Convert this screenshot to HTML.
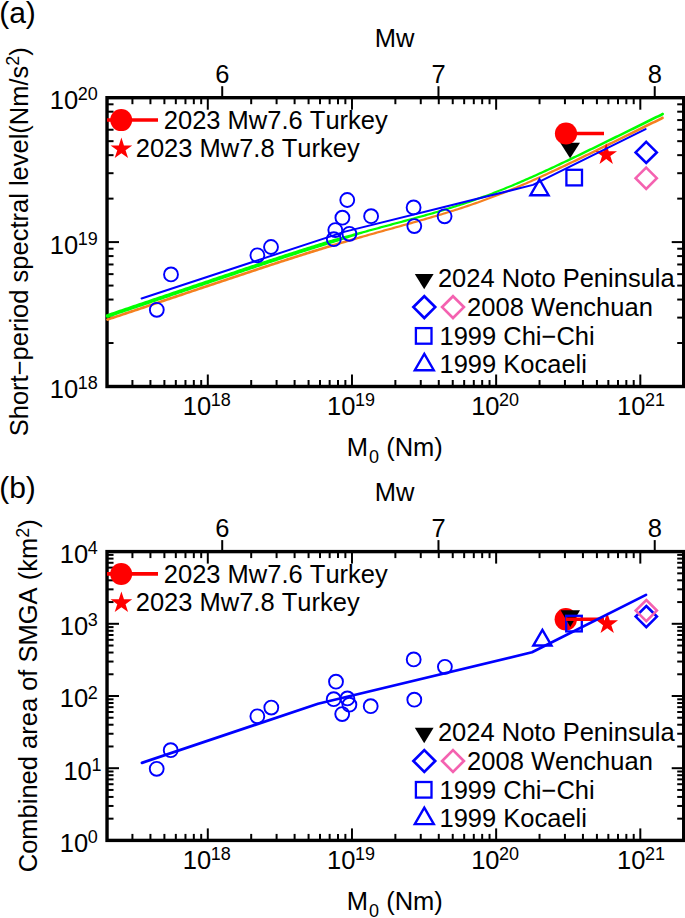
<!DOCTYPE html>
<html><head><meta charset="utf-8"><style>
html,body{margin:0;padding:0;background:#fff;width:685px;height:918px;overflow:hidden}
svg text{font-family:"Liberation Sans",sans-serif;fill:#000;font-kerning:none}
</style></head><body>
<svg width="685" height="918" viewBox="0 0 685 918" style="display:block">
<rect width="685" height="918" fill="#fff"/>
<text x="-0.86" y="22.50" font-size="30" text-anchor="start">(a)</text>
<text x="-0.86" y="498.30" font-size="30" text-anchor="start">(b)</text>
<text transform="translate(27.8,241.7) rotate(-90)" font-size="25.5" text-anchor="middle">Short&#8722;period spectral level(Nm/s<tspan font-size="18.0" dy="-8.5">2</tspan><tspan dy="8.5">)</tspan></text>
<text transform="translate(37.2,695.8) rotate(-90)" font-size="25.5" text-anchor="middle">Combined area of SMGA (km<tspan font-size="18.0" dy="-8.5">2</tspan><tspan dy="8.5">)</tspan></text>
<g stroke="#000" stroke-width="2.0">
<line x1="132.42" y1="386.50" x2="132.42" y2="380.00"/>
<line x1="132.42" y1="97.70" x2="132.42" y2="104.20"/>
<line x1="150.43" y1="386.50" x2="150.43" y2="380.00"/>
<line x1="150.43" y1="97.70" x2="150.43" y2="104.20"/>
<line x1="164.40" y1="386.50" x2="164.40" y2="380.00"/>
<line x1="164.40" y1="97.70" x2="164.40" y2="104.20"/>
<line x1="175.82" y1="386.50" x2="175.82" y2="380.00"/>
<line x1="175.82" y1="97.70" x2="175.82" y2="104.20"/>
<line x1="185.47" y1="386.50" x2="185.47" y2="380.00"/>
<line x1="185.47" y1="97.70" x2="185.47" y2="104.20"/>
<line x1="193.83" y1="386.50" x2="193.83" y2="380.00"/>
<line x1="193.83" y1="97.70" x2="193.83" y2="104.20"/>
<line x1="201.20" y1="386.50" x2="201.20" y2="380.00"/>
<line x1="201.20" y1="97.70" x2="201.20" y2="104.20"/>
<line x1="207.80" y1="386.50" x2="207.80" y2="374.50"/>
<line x1="207.80" y1="97.70" x2="207.80" y2="109.70"/>
<line x1="251.20" y1="386.50" x2="251.20" y2="380.00"/>
<line x1="251.20" y1="97.70" x2="251.20" y2="104.20"/>
<line x1="276.59" y1="386.50" x2="276.59" y2="380.00"/>
<line x1="276.59" y1="97.70" x2="276.59" y2="104.20"/>
<line x1="294.60" y1="386.50" x2="294.60" y2="380.00"/>
<line x1="294.60" y1="97.70" x2="294.60" y2="104.20"/>
<line x1="308.57" y1="386.50" x2="308.57" y2="380.00"/>
<line x1="308.57" y1="97.70" x2="308.57" y2="104.20"/>
<line x1="319.99" y1="386.50" x2="319.99" y2="380.00"/>
<line x1="319.99" y1="97.70" x2="319.99" y2="104.20"/>
<line x1="329.64" y1="386.50" x2="329.64" y2="380.00"/>
<line x1="329.64" y1="97.70" x2="329.64" y2="104.20"/>
<line x1="338.00" y1="386.50" x2="338.00" y2="380.00"/>
<line x1="338.00" y1="97.70" x2="338.00" y2="104.20"/>
<line x1="345.37" y1="386.50" x2="345.37" y2="380.00"/>
<line x1="345.37" y1="97.70" x2="345.37" y2="104.20"/>
<line x1="351.97" y1="386.50" x2="351.97" y2="374.50"/>
<line x1="351.97" y1="97.70" x2="351.97" y2="109.70"/>
<line x1="395.37" y1="386.50" x2="395.37" y2="380.00"/>
<line x1="395.37" y1="97.70" x2="395.37" y2="104.20"/>
<line x1="420.76" y1="386.50" x2="420.76" y2="380.00"/>
<line x1="420.76" y1="97.70" x2="420.76" y2="104.20"/>
<line x1="438.77" y1="386.50" x2="438.77" y2="380.00"/>
<line x1="438.77" y1="97.70" x2="438.77" y2="104.20"/>
<line x1="452.74" y1="386.50" x2="452.74" y2="380.00"/>
<line x1="452.74" y1="97.70" x2="452.74" y2="104.20"/>
<line x1="464.16" y1="386.50" x2="464.16" y2="380.00"/>
<line x1="464.16" y1="97.70" x2="464.16" y2="104.20"/>
<line x1="473.81" y1="386.50" x2="473.81" y2="380.00"/>
<line x1="473.81" y1="97.70" x2="473.81" y2="104.20"/>
<line x1="482.17" y1="386.50" x2="482.17" y2="380.00"/>
<line x1="482.17" y1="97.70" x2="482.17" y2="104.20"/>
<line x1="489.54" y1="386.50" x2="489.54" y2="380.00"/>
<line x1="489.54" y1="97.70" x2="489.54" y2="104.20"/>
<line x1="496.14" y1="386.50" x2="496.14" y2="374.50"/>
<line x1="496.14" y1="97.70" x2="496.14" y2="109.70"/>
<line x1="539.54" y1="386.50" x2="539.54" y2="380.00"/>
<line x1="539.54" y1="97.70" x2="539.54" y2="104.20"/>
<line x1="564.93" y1="386.50" x2="564.93" y2="380.00"/>
<line x1="564.93" y1="97.70" x2="564.93" y2="104.20"/>
<line x1="582.94" y1="386.50" x2="582.94" y2="380.00"/>
<line x1="582.94" y1="97.70" x2="582.94" y2="104.20"/>
<line x1="596.91" y1="386.50" x2="596.91" y2="380.00"/>
<line x1="596.91" y1="97.70" x2="596.91" y2="104.20"/>
<line x1="608.33" y1="386.50" x2="608.33" y2="380.00"/>
<line x1="608.33" y1="97.70" x2="608.33" y2="104.20"/>
<line x1="617.98" y1="386.50" x2="617.98" y2="380.00"/>
<line x1="617.98" y1="97.70" x2="617.98" y2="104.20"/>
<line x1="626.34" y1="386.50" x2="626.34" y2="380.00"/>
<line x1="626.34" y1="97.70" x2="626.34" y2="104.20"/>
<line x1="633.71" y1="386.50" x2="633.71" y2="380.00"/>
<line x1="633.71" y1="97.70" x2="633.71" y2="104.20"/>
<line x1="640.31" y1="386.50" x2="640.31" y2="374.50"/>
<line x1="640.31" y1="97.70" x2="640.31" y2="109.70"/>
<line x1="107.03" y1="343.03" x2="113.53" y2="343.03"/>
<line x1="683.71" y1="343.03" x2="677.21" y2="343.03"/>
<line x1="107.03" y1="317.60" x2="113.53" y2="317.60"/>
<line x1="683.71" y1="317.60" x2="677.21" y2="317.60"/>
<line x1="107.03" y1="299.56" x2="113.53" y2="299.56"/>
<line x1="683.71" y1="299.56" x2="677.21" y2="299.56"/>
<line x1="107.03" y1="285.57" x2="113.53" y2="285.57"/>
<line x1="683.71" y1="285.57" x2="677.21" y2="285.57"/>
<line x1="107.03" y1="274.13" x2="113.53" y2="274.13"/>
<line x1="683.71" y1="274.13" x2="677.21" y2="274.13"/>
<line x1="107.03" y1="264.47" x2="113.53" y2="264.47"/>
<line x1="683.71" y1="264.47" x2="677.21" y2="264.47"/>
<line x1="107.03" y1="256.09" x2="113.53" y2="256.09"/>
<line x1="683.71" y1="256.09" x2="677.21" y2="256.09"/>
<line x1="107.03" y1="248.71" x2="113.53" y2="248.71"/>
<line x1="683.71" y1="248.71" x2="677.21" y2="248.71"/>
<line x1="107.03" y1="242.10" x2="119.03" y2="242.10"/>
<line x1="683.71" y1="242.10" x2="671.71" y2="242.10"/>
<line x1="107.03" y1="198.63" x2="113.53" y2="198.63"/>
<line x1="683.71" y1="198.63" x2="677.21" y2="198.63"/>
<line x1="107.03" y1="173.20" x2="113.53" y2="173.20"/>
<line x1="683.71" y1="173.20" x2="677.21" y2="173.20"/>
<line x1="107.03" y1="155.16" x2="113.53" y2="155.16"/>
<line x1="683.71" y1="155.16" x2="677.21" y2="155.16"/>
<line x1="107.03" y1="141.17" x2="113.53" y2="141.17"/>
<line x1="683.71" y1="141.17" x2="677.21" y2="141.17"/>
<line x1="107.03" y1="129.73" x2="113.53" y2="129.73"/>
<line x1="683.71" y1="129.73" x2="677.21" y2="129.73"/>
<line x1="107.03" y1="120.07" x2="113.53" y2="120.07"/>
<line x1="683.71" y1="120.07" x2="677.21" y2="120.07"/>
<line x1="107.03" y1="111.69" x2="113.53" y2="111.69"/>
<line x1="683.71" y1="111.69" x2="677.21" y2="111.69"/>
<line x1="107.03" y1="104.31" x2="113.53" y2="104.31"/>
<line x1="683.71" y1="104.31" x2="677.21" y2="104.31"/>
<line x1="222.22" y1="97.70" x2="222.22" y2="86.20"/>
<line x1="438.47" y1="97.70" x2="438.47" y2="86.20"/>
<line x1="654.73" y1="97.70" x2="654.73" y2="86.20"/>
</g>
<rect x="107.03" y="97.70" width="576.68" height="288.80" fill="none" stroke="#000" stroke-width="3.4"/>
<path d="M107.50,318.15L109.50,317.48L111.50,316.81L113.50,316.14L115.50,315.47L117.50,314.80L119.50,314.13L121.50,313.46L123.50,312.79L125.50,312.12L127.50,311.44L129.50,310.77L131.50,310.10L133.50,309.43L135.50,308.76L137.50,308.09L139.50,307.42L141.50,306.75L143.50,306.08L145.50,305.41L147.50,304.73L149.50,304.06L151.50,303.39L153.50,302.72L155.50,302.05L157.50,301.38L159.50,300.71L161.50,300.04L163.50,299.37L165.50,298.70L167.50,298.02L169.50,297.35L171.50,296.68L173.50,296.01L175.50,295.34L177.50,294.67L179.50,294.00L181.50,293.33L183.50,292.66L185.50,291.99L187.50,291.31L189.50,290.64L191.50,289.97L193.50,289.30L195.50,288.63L197.50,287.96L199.50,287.29L201.50,286.62L203.50,285.95L205.50,285.28L207.50,284.61L209.50,283.94L211.50,283.27L213.50,282.60L215.50,281.93L217.50,281.26L219.50,280.59L221.50,279.92L223.50,279.25L225.50,278.58L227.50,277.92L229.50,277.25L231.50,276.58L233.50,275.91L235.50,275.24L237.50,274.58L239.50,273.91L241.50,273.24L243.50,272.58L245.50,271.91L247.50,271.25L249.50,270.58L251.50,269.92L253.50,269.26L255.50,268.59L257.50,267.93L259.50,267.27L261.50,266.61L263.50,265.95L265.50,265.29L267.50,264.63L269.50,263.98L271.50,263.32L273.50,262.67L275.50,262.01L277.50,261.36L279.50,260.71L281.50,260.06L283.50,259.41L285.50,258.76L287.50,258.12L289.50,257.47L291.50,256.83L293.50,256.19L295.50,255.55L297.50,254.91L299.50,254.27L301.50,253.64L303.50,253.00L305.50,252.37L307.50,251.74L309.50,251.12L311.50,250.49L313.50,249.87L315.50,249.25L317.50,248.63L319.50,248.01L321.50,247.40L323.50,246.78L325.50,246.17L327.50,245.57L329.50,244.96L331.50,244.37L333.50,243.78L335.50,243.20L337.50,242.61L339.50,242.03L341.50,241.46L343.50,240.88L345.50,240.31L347.50,239.73L349.50,239.16L351.50,238.60L353.50,238.03L355.50,237.47L357.50,236.91L359.50,236.35L361.50,235.79L363.50,235.23L365.50,234.68L367.50,234.11L369.50,233.54L371.50,232.98L373.50,232.42L375.50,231.86L377.50,231.30L379.50,230.74L381.50,230.18L383.50,229.62L385.50,229.07L387.50,228.51L389.50,227.95L391.50,227.40L393.50,226.84L395.50,226.29L397.50,225.73L399.50,225.18L401.50,224.62L403.50,224.06L405.50,223.51L407.50,222.95L409.50,222.39L411.50,221.83L413.50,221.27L415.50,220.71L417.50,220.14L419.50,219.57L421.50,219.00L423.50,218.43L425.50,217.86L427.50,217.28L429.50,216.70L431.50,216.12L433.50,215.53L435.50,214.94L437.50,214.34L439.50,213.74L441.50,213.14L443.50,212.54L445.50,211.92L447.50,211.31L449.50,210.69L451.50,210.06L453.50,209.43L455.50,208.80L457.50,208.16L459.50,207.51L461.50,206.85L463.50,206.20L465.50,205.53L467.50,204.86L469.50,204.18L471.50,203.50L473.50,202.81L475.50,202.11L477.50,201.41L479.50,200.70L481.50,199.98L483.50,199.25L485.50,198.52L487.50,197.78L489.50,197.04L491.50,196.29L493.50,195.52L495.50,194.76L497.50,193.98L499.50,193.21L501.50,192.41L503.50,191.61L505.50,190.81L507.50,189.99L509.50,189.17L511.50,188.35L513.50,187.51L515.50,186.68L517.50,185.83L519.50,184.98L521.50,184.12L523.50,183.26L525.50,182.39L527.50,181.52L529.50,180.63L531.50,179.75L533.50,178.86L535.50,177.96L537.50,177.06L539.50,176.15L541.50,175.24L543.50,174.33L545.50,173.41L547.50,172.48L549.50,171.56L551.50,170.62L553.50,169.69L555.50,168.75L557.50,167.81L559.50,166.87L561.50,165.92L563.50,164.97L565.50,164.02L567.50,163.06L569.50,162.11L571.50,161.14L573.50,160.18L575.50,159.22L577.50,158.25L579.50,157.29L581.50,156.32L583.50,155.35L585.50,154.37L587.50,153.40L589.50,152.42L591.50,151.45L593.50,150.47L595.50,149.49L597.50,148.51L599.50,147.53L601.50,146.55L603.50,145.57L605.50,144.59L607.50,143.60L609.50,142.62L611.50,141.63L613.50,140.65L615.50,139.66L617.50,138.68L619.50,137.69L621.50,136.70L623.50,135.72L625.50,134.73L627.50,133.74L629.50,132.75L631.50,131.76L633.50,130.78L635.50,129.79L637.50,128.80L639.50,127.81L641.50,126.82L643.50,125.83L645.50,124.84L647.50,123.85L649.50,122.86L651.50,121.87L653.50,120.88L655.50,119.90L657.50,118.91L659.50,117.92L661.50,116.93L662.50,116.44L662.50,119.44L661.50,119.93L659.50,120.91L657.50,121.90L655.50,122.88L653.50,123.86L651.50,124.84L649.50,125.82L647.50,126.80L645.50,127.78L643.50,128.77L641.50,129.75L639.50,130.73L637.50,131.71L635.50,132.69L633.50,133.67L631.50,134.65L629.50,135.63L627.50,136.61L625.50,137.59L623.50,138.57L621.50,139.55L619.50,140.53L617.50,141.51L615.50,142.48L613.50,143.46L611.50,144.44L609.50,145.42L607.50,146.39L605.50,147.37L603.50,148.34L601.50,149.32L599.50,150.29L597.50,151.26L595.50,152.23L593.50,153.20L591.50,154.17L589.50,155.14L587.50,156.11L585.50,157.08L583.50,158.04L581.50,159.00L579.50,159.96L577.50,160.92L575.50,161.88L573.50,162.84L571.50,163.79L569.50,164.74L567.50,165.69L565.50,166.64L563.50,167.58L561.50,168.52L559.50,169.46L557.50,170.40L555.50,171.33L553.50,172.26L551.50,173.18L549.50,174.10L547.50,175.02L545.50,175.93L543.50,176.84L541.50,177.75L539.50,178.65L537.50,179.55L535.50,180.43L533.50,181.32L531.50,182.20L529.50,183.08L527.50,183.95L525.50,184.82L523.50,185.67L521.50,186.53L519.50,187.38L517.50,188.22L515.50,189.05L513.50,189.88L511.50,190.71L509.50,191.52L507.50,192.33L505.50,193.14L503.50,193.93L501.50,194.72L499.50,195.51L497.50,196.28L495.50,197.06L493.50,197.82L491.50,198.59L489.50,199.34L487.50,200.08L485.50,200.82L483.50,201.55L481.50,202.28L479.50,203.00L477.50,203.71L475.50,204.41L473.50,205.11L471.50,205.80L469.50,206.48L467.50,207.16L465.50,207.83L463.50,208.50L461.50,209.15L459.50,209.81L457.50,210.46L455.50,211.10L453.50,211.73L451.50,212.36L449.50,212.99L447.50,213.61L445.50,214.22L443.50,214.84L441.50,215.44L439.50,216.04L437.50,216.64L435.50,217.24L433.50,217.83L431.50,218.42L429.50,219.00L427.50,219.58L425.50,220.16L423.50,220.73L421.50,221.30L419.50,221.87L417.50,222.44L415.50,223.01L413.50,223.57L411.50,224.13L409.50,224.69L407.50,225.25L405.50,225.81L403.50,226.36L401.50,226.92L399.50,227.48L397.50,228.03L395.50,228.59L393.50,229.14L391.50,229.70L389.50,230.25L387.50,230.81L385.50,231.37L383.50,231.92L381.50,232.48L379.50,233.04L377.50,233.60L375.50,234.16L373.50,234.72L371.50,235.28L369.50,235.84L367.50,236.41L365.50,236.98L363.50,237.56L361.50,238.14L359.50,238.73L357.50,239.32L355.50,239.90L353.50,240.50L351.50,241.09L349.50,241.68L347.50,242.28L345.50,242.88L343.50,243.49L341.50,244.09L339.50,244.70L337.50,245.31L335.50,245.92L333.50,246.53L331.50,247.15L329.50,247.76L327.50,248.37L325.50,248.97L323.50,249.58L321.50,250.20L319.50,250.81L317.50,251.43L315.50,252.05L313.50,252.67L311.50,253.29L309.50,253.92L307.50,254.54L305.50,255.17L303.50,255.80L301.50,256.44L299.50,257.07L297.50,257.71L295.50,258.35L293.50,258.99L291.50,259.63L289.50,260.27L287.50,260.92L285.50,261.56L283.50,262.21L281.50,262.86L279.50,263.51L277.50,264.16L275.50,264.81L273.50,265.47L271.50,266.12L269.50,266.78L267.50,267.43L265.50,268.09L263.50,268.75L261.50,269.41L259.50,270.07L257.50,270.73L255.50,271.39L253.50,272.06L251.50,272.72L249.50,273.38L247.50,274.05L245.50,274.71L243.50,275.38L241.50,276.04L239.50,276.71L237.50,277.38L235.50,278.04L233.50,278.71L231.50,279.38L229.50,280.05L227.50,280.72L225.50,281.38L223.50,282.05L221.50,282.72L219.50,283.39L217.50,284.06L215.50,284.73L213.50,285.40L211.50,286.07L209.50,286.74L207.50,287.41L205.50,288.08L203.50,288.75L201.50,289.42L199.50,290.09L197.50,290.76L195.50,291.43L193.50,292.10L191.50,292.77L189.50,293.44L187.50,294.11L185.50,294.79L183.50,295.46L181.50,296.13L179.50,296.80L177.50,297.47L175.50,298.14L173.50,298.81L171.50,299.48L169.50,300.15L167.50,300.82L165.50,301.50L163.50,302.17L161.50,302.84L159.50,303.51L157.50,304.18L155.50,304.85L153.50,305.52L151.50,306.19L149.50,306.86L147.50,307.53L145.50,308.21L143.50,308.88L141.50,309.55L139.50,310.22L137.50,310.89L135.50,311.56L133.50,312.23L131.50,312.90L129.50,313.57L127.50,314.24L125.50,314.92L123.50,315.59L121.50,316.26L119.50,316.93L117.50,317.60L115.50,318.27L113.50,318.94L111.50,319.61L109.50,320.28L107.50,320.95Z" fill="#f5801f"/>
<circle cx="107.50" cy="319.55" r="1.33" fill="#f5801f"/>
<circle cx="662.50" cy="117.94" r="1.35" fill="#f5801f"/>
<path d="M107.50,313.90L109.50,313.23L111.50,312.55L113.50,311.88L115.50,311.20L117.50,310.53L119.50,309.85L121.50,309.17L123.50,308.50L125.50,307.82L127.50,307.15L129.50,306.47L131.50,305.80L133.50,305.12L135.50,304.45L137.50,303.77L139.50,303.10L141.50,302.42L143.50,301.75L145.50,301.07L147.50,300.40L149.50,299.72L151.50,299.05L153.50,298.37L155.50,297.70L157.50,297.02L159.50,296.35L161.50,295.67L163.50,295.00L165.50,294.32L167.50,293.65L169.50,292.97L171.50,292.29L173.50,291.62L175.50,290.94L177.50,290.27L179.50,289.59L181.50,288.92L183.50,288.24L185.50,287.57L187.50,286.89L189.50,286.22L191.50,285.54L193.50,284.87L195.50,284.19L197.50,283.52L199.50,282.84L201.50,282.17L203.50,281.49L205.50,280.82L207.50,280.14L209.50,279.47L211.50,278.80L213.50,278.12L215.50,277.45L217.50,276.77L219.50,276.10L221.50,275.43L223.50,274.75L225.50,274.08L227.50,273.41L229.50,272.73L231.50,272.06L233.50,271.39L235.50,270.72L237.50,270.05L239.50,269.37L241.50,268.70L243.50,268.03L245.50,267.36L247.50,266.69L249.50,266.03L251.50,265.36L253.50,264.69L255.50,264.02L257.50,263.35L259.50,262.69L261.50,262.02L263.50,261.36L265.50,260.70L267.50,260.03L269.50,259.37L271.50,258.71L273.50,258.05L275.50,257.39L277.50,256.74L279.50,256.08L281.50,255.42L283.50,254.77L285.50,254.12L287.50,253.47L289.50,252.82L291.50,252.17L293.50,251.53L295.50,250.88L297.50,250.24L299.50,249.60L301.50,248.96L303.50,248.32L305.50,247.69L307.50,247.06L309.50,246.43L311.50,245.80L313.50,245.18L315.50,244.55L317.50,243.93L319.50,243.31L321.50,242.69L323.50,242.08L325.50,241.47L327.50,240.86L329.50,240.26L331.50,239.68L333.50,239.11L335.50,238.55L337.50,237.99L339.50,237.43L341.50,236.88L343.50,236.33L345.50,235.78L347.50,235.23L349.50,234.69L351.50,234.14L353.50,233.61L355.50,233.07L357.50,232.54L359.50,232.01L361.50,231.48L363.50,230.95L365.50,230.43L367.50,229.87L369.50,229.31L371.50,228.77L373.50,228.22L375.50,227.67L377.50,227.13L379.50,226.58L381.50,226.04L383.50,225.50L385.50,224.96L387.50,224.42L389.50,223.88L391.50,223.34L393.50,222.81L395.50,222.27L397.50,221.73L399.50,221.20L401.50,220.66L403.50,220.12L405.50,219.58L407.50,219.04L409.50,218.50L411.50,217.96L413.50,217.41L415.50,216.87L417.50,216.32L419.50,215.77L421.50,215.21L423.50,214.66L425.50,214.10L427.50,213.54L429.50,212.98L431.50,212.40L433.50,211.83L435.50,211.25L437.50,210.67L439.50,210.08L441.50,209.49L443.50,208.89L445.50,208.29L447.50,207.68L449.50,207.06L451.50,206.44L453.50,205.82L455.50,205.18L457.50,204.55L459.50,203.90L461.50,203.25L463.50,202.59L465.50,201.93L467.50,201.25L469.50,200.58L471.50,199.89L473.50,199.20L475.50,198.50L477.50,197.79L479.50,197.07L481.50,196.36L483.50,195.62L485.50,194.88L487.50,194.15L489.50,193.39L491.50,192.63L493.50,191.87L495.50,191.09L497.50,190.31L499.50,189.53L501.50,188.72L503.50,187.92L505.50,187.11L507.50,186.29L509.50,185.46L511.50,184.63L513.50,183.79L515.50,182.94L517.50,182.09L519.50,181.23L521.50,180.37L523.50,179.50L525.50,178.62L527.50,177.75L529.50,176.86L531.50,175.97L533.50,175.08L535.50,174.18L537.50,173.27L539.50,172.36L541.50,171.45L543.50,170.53L545.50,169.61L547.50,168.68L549.50,167.75L551.50,166.82L553.50,165.89L555.50,164.94L557.50,164.00L559.50,163.06L561.50,162.11L563.50,161.16L565.50,160.21L567.50,159.25L569.50,158.30L571.50,157.34L573.50,156.37L575.50,155.41L577.50,154.45L579.50,153.48L581.50,152.51L583.50,151.54L585.50,150.57L587.50,149.60L589.50,148.62L591.50,147.65L593.50,146.67L595.50,145.69L597.50,144.71L599.50,143.73L601.50,142.75L603.50,141.77L605.50,140.79L607.50,139.81L609.50,138.82L611.50,137.84L613.50,136.86L615.50,135.87L617.50,134.89L619.50,133.90L621.50,132.91L623.50,131.93L625.50,130.94L627.50,129.95L629.50,128.97L631.50,127.98L633.50,126.99L635.50,126.00L637.50,125.02L639.50,124.03L641.50,123.04L643.50,122.05L645.50,121.06L647.50,120.07L649.50,119.08L651.50,118.10L653.50,117.11L655.50,116.12L657.50,115.13L659.50,114.14L661.50,113.15L662.70,112.56L662.70,115.56L661.50,116.15L659.50,117.14L657.50,118.12L655.50,119.10L653.50,120.08L651.50,121.06L649.50,122.04L647.50,123.02L645.50,124.00L643.50,124.99L641.50,125.97L639.50,126.95L637.50,127.93L635.50,128.91L633.50,129.89L631.50,130.87L629.50,131.85L627.50,132.82L625.50,133.80L623.50,134.78L621.50,135.76L619.50,136.74L617.50,137.72L615.50,138.69L613.50,139.67L611.50,140.65L609.50,141.62L607.50,142.60L605.50,143.57L603.50,144.55L601.50,145.52L599.50,146.49L597.50,147.46L595.50,148.43L593.50,149.40L591.50,150.37L589.50,151.34L587.50,152.31L585.50,153.27L583.50,154.23L581.50,155.20L579.50,156.16L577.50,157.12L575.50,158.07L573.50,159.03L571.50,159.98L569.50,160.94L567.50,161.88L565.50,162.83L563.50,163.78L561.50,164.72L559.50,165.65L557.50,166.59L555.50,167.52L553.50,168.45L551.50,169.38L549.50,170.30L547.50,171.22L545.50,172.14L543.50,173.05L541.50,173.96L539.50,174.86L537.50,175.76L535.50,176.65L533.50,177.54L531.50,178.43L529.50,179.31L527.50,180.18L525.50,181.05L523.50,181.92L521.50,182.78L519.50,183.63L517.50,184.48L515.50,185.32L513.50,186.15L511.50,186.99L509.50,187.81L507.50,188.62L505.50,189.44L503.50,190.24L501.50,191.03L499.50,191.83L497.50,192.61L495.50,193.39L493.50,194.17L491.50,194.93L489.50,195.69L487.50,196.45L485.50,197.18L483.50,197.92L481.50,198.66L479.50,199.37L477.50,200.09L475.50,200.80L473.50,201.50L471.50,202.19L469.50,202.88L467.50,203.55L465.50,204.23L463.50,204.89L461.50,205.55L459.50,206.20L457.50,206.85L455.50,207.48L453.50,208.12L451.50,208.74L449.50,209.36L447.50,209.98L445.50,210.59L443.50,211.19L441.50,211.79L439.50,212.38L437.50,212.97L435.50,213.55L433.50,214.13L431.50,214.70L429.50,215.28L427.50,215.84L425.50,216.40L423.50,216.96L421.50,217.51L419.50,218.07L417.50,218.62L415.50,219.17L413.50,219.71L411.50,220.26L409.50,220.80L407.50,221.34L405.50,221.88L403.50,222.42L401.50,222.96L399.50,223.50L397.50,224.03L395.50,224.57L393.50,225.11L391.50,225.64L389.50,226.18L387.50,226.72L385.50,227.26L383.50,227.80L381.50,228.34L379.50,228.88L377.50,229.43L375.50,229.97L373.50,230.52L371.50,231.07L369.50,231.61L367.50,232.17L365.50,232.73L363.50,233.33L361.50,233.95L359.50,234.58L357.50,235.20L355.50,235.83L353.50,236.47L351.50,237.10L349.50,237.74L347.50,238.38L345.50,239.02L343.50,239.67L341.50,240.32L339.50,240.97L337.50,241.63L335.50,242.28L333.50,242.94L331.50,243.61L329.50,244.26L327.50,244.86L325.50,245.47L323.50,246.08L321.50,246.69L319.50,247.31L317.50,247.93L315.50,248.55L313.50,249.18L311.50,249.80L309.50,250.43L307.50,251.06L305.50,251.69L303.50,252.32L301.50,252.96L299.50,253.60L297.50,254.24L295.50,254.88L293.50,255.53L291.50,256.17L289.50,256.82L287.50,257.47L285.50,258.12L283.50,258.77L281.50,259.42L279.50,260.08L277.50,260.74L275.50,261.39L273.50,262.05L271.50,262.71L269.50,263.37L267.50,264.03L265.50,264.70L263.50,265.36L261.50,266.02L259.50,266.69L257.50,267.35L255.50,268.02L253.50,268.69L251.50,269.36L249.50,270.03L247.50,270.69L245.50,271.36L243.50,272.03L241.50,272.70L239.50,273.37L237.50,274.05L235.50,274.72L233.50,275.39L231.50,276.06L229.50,276.73L227.50,277.41L225.50,278.08L223.50,278.75L221.50,279.43L219.50,280.10L217.50,280.77L215.50,281.45L213.50,282.12L211.50,282.80L209.50,283.47L207.50,284.14L205.50,284.82L203.50,285.49L201.50,286.17L199.50,286.84L197.50,287.52L195.50,288.19L193.50,288.87L191.50,289.54L189.50,290.22L187.50,290.89L185.50,291.57L183.50,292.24L181.50,292.92L179.50,293.59L177.50,294.27L175.50,294.94L173.50,295.62L171.50,296.29L169.50,296.97L167.50,297.65L165.50,298.32L163.50,299.00L161.50,299.67L159.50,300.35L157.50,301.02L155.50,301.70L153.50,302.37L151.50,303.05L149.50,303.72L147.50,304.40L145.50,305.07L143.50,305.75L141.50,306.42L139.50,307.10L137.50,307.77L135.50,308.45L133.50,309.12L131.50,309.80L129.50,310.47L127.50,311.15L125.50,311.82L123.50,312.50L121.50,313.17L119.50,313.85L117.50,314.53L115.50,315.20L113.50,315.88L111.50,316.55L109.50,317.23L107.50,317.90Z" fill="#00ff00"/>
<circle cx="107.50" cy="315.90" r="1.89" fill="#00ff00"/>
<circle cx="662.70" cy="114.06" r="1.35" fill="#00ff00"/>
<circle cx="156.80" cy="309.80" r="6.95" fill="none" stroke="#0000ff" stroke-width="1.9"/>
<circle cx="171.00" cy="274.40" r="6.95" fill="none" stroke="#0000ff" stroke-width="1.9"/>
<circle cx="257.40" cy="255.30" r="6.95" fill="none" stroke="#0000ff" stroke-width="1.9"/>
<circle cx="271.00" cy="247.00" r="6.95" fill="none" stroke="#0000ff" stroke-width="1.9"/>
<circle cx="333.80" cy="239.20" r="6.95" fill="none" stroke="#0000ff" stroke-width="1.9"/>
<circle cx="335.30" cy="230.10" r="6.95" fill="none" stroke="#0000ff" stroke-width="1.9"/>
<circle cx="342.40" cy="217.65" r="6.95" fill="none" stroke="#0000ff" stroke-width="1.9"/>
<circle cx="347.25" cy="200.00" r="6.95" fill="none" stroke="#0000ff" stroke-width="1.9"/>
<circle cx="349.40" cy="233.80" r="6.95" fill="none" stroke="#0000ff" stroke-width="1.9"/>
<circle cx="371.10" cy="216.20" r="6.95" fill="none" stroke="#0000ff" stroke-width="1.9"/>
<circle cx="413.60" cy="207.40" r="6.95" fill="none" stroke="#0000ff" stroke-width="1.9"/>
<circle cx="414.30" cy="226.10" r="6.95" fill="none" stroke="#0000ff" stroke-width="1.9"/>
<circle cx="444.60" cy="216.30" r="6.95" fill="none" stroke="#0000ff" stroke-width="1.9"/>
<path d="M539.50,179.50L548.60,195.26L530.40,195.26Z" fill="none" stroke="#0000ff" stroke-width="2.4" stroke-linejoin="miter"/>
<rect x="566.40" y="169.80" width="15.6" height="15.6" fill="none" stroke="#0000ff" stroke-width="2.3"/>
<path d="M646.20,141.80L656.80,152.40L646.20,163.00L635.60,152.40Z" fill="none" stroke="#0000ff" stroke-width="2.6"/>
<path d="M646.20,167.60L656.80,178.20L646.20,188.80L635.60,178.20Z" fill="none" stroke="#f462b0" stroke-width="2.6"/>
<path d="M560.20,142.70L580.00,142.70L570.10,158.30Z" fill="#000"/>
<line x1="566.00" y1="133.50" x2="604.00" y2="133.50" stroke="#ff0000" stroke-width="3.6"/>
<circle cx="566.00" cy="133.50" r="11.1" fill="#ff0000"/>
<polygon points="606.20,143.30 608.76,151.18 617.04,151.18 610.34,156.05 612.90,163.92 606.20,159.05 599.50,163.92 602.06,156.05 595.36,151.18 603.64,151.18" fill="#ff0000"/>
<path d="M141.60,298.50L345.00,231.60L533.00,184.90L645.60,129.15" fill="none" stroke="#0000ff" stroke-width="2.0" stroke-linejoin="round" stroke-linecap="round"/>
<line x1="107.00" y1="120.00" x2="158.00" y2="120.00" stroke="#ff0000" stroke-width="3.6"/>
<circle cx="121.20" cy="120.10" r="11.0" fill="#ff0000"/>
<text x="163.82" y="128.60" font-size="25.5" text-anchor="start">2023 Mw7.6 Turkey</text>
<polygon points="121.40,137.50 123.96,145.38 132.24,145.38 125.54,150.25 128.10,158.12 121.40,153.25 114.70,158.12 117.26,150.25 110.56,145.38 118.84,145.38" fill="#ff0000"/>
<text x="135.72" y="157.30" font-size="25.5" text-anchor="start">2023 Mw7.8 Turkey</text>
<path d="M414.80,273.90L433.60,273.90L424.20,289.30Z" fill="#000"/>
<text x="437.93" y="286.80" font-size="25.5" text-anchor="start">2024 Noto Peninsula</text>
<path d="M424.30,296.20L435.20,307.10L424.30,318.00L413.40,307.10Z" fill="none" stroke="#0000ff" stroke-width="2.7"/>
<path d="M453.00,296.20L463.90,307.10L453.00,318.00L442.10,307.10Z" fill="none" stroke="#f462b0" stroke-width="2.7"/>
<text x="467.12" y="315.90" font-size="25.5" text-anchor="start">2008 Wenchuan</text>
<rect x="415.90" y="328.10" width="15.6" height="15.6" fill="none" stroke="#0000ff" stroke-width="2.3"/>
<text x="439.46" y="345.20" font-size="25.5" text-anchor="start">1999 Chi&#8722;Chi</text>
<path d="M424.30,353.80L433.80,370.25L414.80,370.25Z" fill="none" stroke="#0000ff" stroke-width="2.4" stroke-linejoin="miter"/>
<text x="439.46" y="373.40" font-size="25.5" text-anchor="start">1999 Kocaeli</text>
<text x="222.42" y="83.40" font-size="25.5" text-anchor="middle">6</text>
<text x="438.67" y="83.40" font-size="25.5" text-anchor="middle">7</text>
<text x="654.93" y="83.40" font-size="25.5" text-anchor="middle">8</text>
<text x="394.57" y="46.60" font-size="25.5" text-anchor="middle">Mw</text>
<text x="206.80" y="414.90" font-size="25.5" text-anchor="middle">10<tspan font-size="18.0" dx="-0.4" dy="-8.8">18</tspan></text>
<text x="350.97" y="414.90" font-size="25.5" text-anchor="middle">10<tspan font-size="18.0" dx="-0.4" dy="-8.8">19</tspan></text>
<text x="495.14" y="414.90" font-size="25.5" text-anchor="middle">10<tspan font-size="18.0" dx="-0.4" dy="-8.8">20</tspan></text>
<text x="641.11" y="414.90" font-size="25.5" text-anchor="middle">10<tspan font-size="18.0" dx="-0.4" dy="-8.8">21</tspan></text>
<text x="394.87" y="455.80" font-size="25.5" text-anchor="middle">M<tspan font-size="18.0" dx="1" dy="7.1">0</tspan><tspan dy="-7.1"> (Nm)</tspan></text>
<text x="97.80" y="397.90" font-size="25.5" text-anchor="end">10<tspan font-size="18.0" dx="-0.4" dy="-8.8">18</tspan></text>
<text x="97.80" y="253.50" font-size="25.5" text-anchor="end">10<tspan font-size="18.0" dx="-0.4" dy="-8.8">19</tspan></text>
<text x="97.80" y="109.10" font-size="25.5" text-anchor="end">10<tspan font-size="18.0" dx="-0.4" dy="-8.8">20</tspan></text>
<g stroke="#000" stroke-width="2.0">
<line x1="132.42" y1="840.40" x2="132.42" y2="833.90"/>
<line x1="132.42" y1="551.60" x2="132.42" y2="558.10"/>
<line x1="150.43" y1="840.40" x2="150.43" y2="833.90"/>
<line x1="150.43" y1="551.60" x2="150.43" y2="558.10"/>
<line x1="164.40" y1="840.40" x2="164.40" y2="833.90"/>
<line x1="164.40" y1="551.60" x2="164.40" y2="558.10"/>
<line x1="175.82" y1="840.40" x2="175.82" y2="833.90"/>
<line x1="175.82" y1="551.60" x2="175.82" y2="558.10"/>
<line x1="185.47" y1="840.40" x2="185.47" y2="833.90"/>
<line x1="185.47" y1="551.60" x2="185.47" y2="558.10"/>
<line x1="193.83" y1="840.40" x2="193.83" y2="833.90"/>
<line x1="193.83" y1="551.60" x2="193.83" y2="558.10"/>
<line x1="201.20" y1="840.40" x2="201.20" y2="833.90"/>
<line x1="201.20" y1="551.60" x2="201.20" y2="558.10"/>
<line x1="207.80" y1="840.40" x2="207.80" y2="828.40"/>
<line x1="207.80" y1="551.60" x2="207.80" y2="563.60"/>
<line x1="251.20" y1="840.40" x2="251.20" y2="833.90"/>
<line x1="251.20" y1="551.60" x2="251.20" y2="558.10"/>
<line x1="276.59" y1="840.40" x2="276.59" y2="833.90"/>
<line x1="276.59" y1="551.60" x2="276.59" y2="558.10"/>
<line x1="294.60" y1="840.40" x2="294.60" y2="833.90"/>
<line x1="294.60" y1="551.60" x2="294.60" y2="558.10"/>
<line x1="308.57" y1="840.40" x2="308.57" y2="833.90"/>
<line x1="308.57" y1="551.60" x2="308.57" y2="558.10"/>
<line x1="319.99" y1="840.40" x2="319.99" y2="833.90"/>
<line x1="319.99" y1="551.60" x2="319.99" y2="558.10"/>
<line x1="329.64" y1="840.40" x2="329.64" y2="833.90"/>
<line x1="329.64" y1="551.60" x2="329.64" y2="558.10"/>
<line x1="338.00" y1="840.40" x2="338.00" y2="833.90"/>
<line x1="338.00" y1="551.60" x2="338.00" y2="558.10"/>
<line x1="345.37" y1="840.40" x2="345.37" y2="833.90"/>
<line x1="345.37" y1="551.60" x2="345.37" y2="558.10"/>
<line x1="351.97" y1="840.40" x2="351.97" y2="828.40"/>
<line x1="351.97" y1="551.60" x2="351.97" y2="563.60"/>
<line x1="395.37" y1="840.40" x2="395.37" y2="833.90"/>
<line x1="395.37" y1="551.60" x2="395.37" y2="558.10"/>
<line x1="420.76" y1="840.40" x2="420.76" y2="833.90"/>
<line x1="420.76" y1="551.60" x2="420.76" y2="558.10"/>
<line x1="438.77" y1="840.40" x2="438.77" y2="833.90"/>
<line x1="438.77" y1="551.60" x2="438.77" y2="558.10"/>
<line x1="452.74" y1="840.40" x2="452.74" y2="833.90"/>
<line x1="452.74" y1="551.60" x2="452.74" y2="558.10"/>
<line x1="464.16" y1="840.40" x2="464.16" y2="833.90"/>
<line x1="464.16" y1="551.60" x2="464.16" y2="558.10"/>
<line x1="473.81" y1="840.40" x2="473.81" y2="833.90"/>
<line x1="473.81" y1="551.60" x2="473.81" y2="558.10"/>
<line x1="482.17" y1="840.40" x2="482.17" y2="833.90"/>
<line x1="482.17" y1="551.60" x2="482.17" y2="558.10"/>
<line x1="489.54" y1="840.40" x2="489.54" y2="833.90"/>
<line x1="489.54" y1="551.60" x2="489.54" y2="558.10"/>
<line x1="496.14" y1="840.40" x2="496.14" y2="828.40"/>
<line x1="496.14" y1="551.60" x2="496.14" y2="563.60"/>
<line x1="539.54" y1="840.40" x2="539.54" y2="833.90"/>
<line x1="539.54" y1="551.60" x2="539.54" y2="558.10"/>
<line x1="564.93" y1="840.40" x2="564.93" y2="833.90"/>
<line x1="564.93" y1="551.60" x2="564.93" y2="558.10"/>
<line x1="582.94" y1="840.40" x2="582.94" y2="833.90"/>
<line x1="582.94" y1="551.60" x2="582.94" y2="558.10"/>
<line x1="596.91" y1="840.40" x2="596.91" y2="833.90"/>
<line x1="596.91" y1="551.60" x2="596.91" y2="558.10"/>
<line x1="608.33" y1="840.40" x2="608.33" y2="833.90"/>
<line x1="608.33" y1="551.60" x2="608.33" y2="558.10"/>
<line x1="617.98" y1="840.40" x2="617.98" y2="833.90"/>
<line x1="617.98" y1="551.60" x2="617.98" y2="558.10"/>
<line x1="626.34" y1="840.40" x2="626.34" y2="833.90"/>
<line x1="626.34" y1="551.60" x2="626.34" y2="558.10"/>
<line x1="633.71" y1="840.40" x2="633.71" y2="833.90"/>
<line x1="633.71" y1="551.60" x2="633.71" y2="558.10"/>
<line x1="640.31" y1="840.40" x2="640.31" y2="828.40"/>
<line x1="640.31" y1="551.60" x2="640.31" y2="563.60"/>
<line x1="107.03" y1="818.67" x2="113.53" y2="818.67"/>
<line x1="683.71" y1="818.67" x2="677.21" y2="818.67"/>
<line x1="107.03" y1="805.95" x2="113.53" y2="805.95"/>
<line x1="683.71" y1="805.95" x2="677.21" y2="805.95"/>
<line x1="107.03" y1="796.93" x2="113.53" y2="796.93"/>
<line x1="683.71" y1="796.93" x2="677.21" y2="796.93"/>
<line x1="107.03" y1="789.93" x2="113.53" y2="789.93"/>
<line x1="683.71" y1="789.93" x2="677.21" y2="789.93"/>
<line x1="107.03" y1="784.22" x2="113.53" y2="784.22"/>
<line x1="683.71" y1="784.22" x2="677.21" y2="784.22"/>
<line x1="107.03" y1="779.38" x2="113.53" y2="779.38"/>
<line x1="683.71" y1="779.38" x2="677.21" y2="779.38"/>
<line x1="107.03" y1="775.20" x2="113.53" y2="775.20"/>
<line x1="683.71" y1="775.20" x2="677.21" y2="775.20"/>
<line x1="107.03" y1="771.50" x2="113.53" y2="771.50"/>
<line x1="683.71" y1="771.50" x2="677.21" y2="771.50"/>
<line x1="107.03" y1="768.20" x2="119.03" y2="768.20"/>
<line x1="683.71" y1="768.20" x2="671.71" y2="768.20"/>
<line x1="107.03" y1="746.47" x2="113.53" y2="746.47"/>
<line x1="683.71" y1="746.47" x2="677.21" y2="746.47"/>
<line x1="107.03" y1="733.75" x2="113.53" y2="733.75"/>
<line x1="683.71" y1="733.75" x2="677.21" y2="733.75"/>
<line x1="107.03" y1="724.73" x2="113.53" y2="724.73"/>
<line x1="683.71" y1="724.73" x2="677.21" y2="724.73"/>
<line x1="107.03" y1="717.73" x2="113.53" y2="717.73"/>
<line x1="683.71" y1="717.73" x2="677.21" y2="717.73"/>
<line x1="107.03" y1="712.02" x2="113.53" y2="712.02"/>
<line x1="683.71" y1="712.02" x2="677.21" y2="712.02"/>
<line x1="107.03" y1="707.18" x2="113.53" y2="707.18"/>
<line x1="683.71" y1="707.18" x2="677.21" y2="707.18"/>
<line x1="107.03" y1="703.00" x2="113.53" y2="703.00"/>
<line x1="683.71" y1="703.00" x2="677.21" y2="703.00"/>
<line x1="107.03" y1="699.30" x2="113.53" y2="699.30"/>
<line x1="683.71" y1="699.30" x2="677.21" y2="699.30"/>
<line x1="107.03" y1="696.00" x2="119.03" y2="696.00"/>
<line x1="683.71" y1="696.00" x2="671.71" y2="696.00"/>
<line x1="107.03" y1="674.27" x2="113.53" y2="674.27"/>
<line x1="683.71" y1="674.27" x2="677.21" y2="674.27"/>
<line x1="107.03" y1="661.55" x2="113.53" y2="661.55"/>
<line x1="683.71" y1="661.55" x2="677.21" y2="661.55"/>
<line x1="107.03" y1="652.53" x2="113.53" y2="652.53"/>
<line x1="683.71" y1="652.53" x2="677.21" y2="652.53"/>
<line x1="107.03" y1="645.53" x2="113.53" y2="645.53"/>
<line x1="683.71" y1="645.53" x2="677.21" y2="645.53"/>
<line x1="107.03" y1="639.82" x2="113.53" y2="639.82"/>
<line x1="683.71" y1="639.82" x2="677.21" y2="639.82"/>
<line x1="107.03" y1="634.98" x2="113.53" y2="634.98"/>
<line x1="683.71" y1="634.98" x2="677.21" y2="634.98"/>
<line x1="107.03" y1="630.80" x2="113.53" y2="630.80"/>
<line x1="683.71" y1="630.80" x2="677.21" y2="630.80"/>
<line x1="107.03" y1="627.10" x2="113.53" y2="627.10"/>
<line x1="683.71" y1="627.10" x2="677.21" y2="627.10"/>
<line x1="107.03" y1="623.80" x2="119.03" y2="623.80"/>
<line x1="683.71" y1="623.80" x2="671.71" y2="623.80"/>
<line x1="107.03" y1="602.07" x2="113.53" y2="602.07"/>
<line x1="683.71" y1="602.07" x2="677.21" y2="602.07"/>
<line x1="107.03" y1="589.35" x2="113.53" y2="589.35"/>
<line x1="683.71" y1="589.35" x2="677.21" y2="589.35"/>
<line x1="107.03" y1="580.33" x2="113.53" y2="580.33"/>
<line x1="683.71" y1="580.33" x2="677.21" y2="580.33"/>
<line x1="107.03" y1="573.33" x2="113.53" y2="573.33"/>
<line x1="683.71" y1="573.33" x2="677.21" y2="573.33"/>
<line x1="107.03" y1="567.62" x2="113.53" y2="567.62"/>
<line x1="683.71" y1="567.62" x2="677.21" y2="567.62"/>
<line x1="107.03" y1="562.78" x2="113.53" y2="562.78"/>
<line x1="683.71" y1="562.78" x2="677.21" y2="562.78"/>
<line x1="107.03" y1="558.60" x2="113.53" y2="558.60"/>
<line x1="683.71" y1="558.60" x2="677.21" y2="558.60"/>
<line x1="107.03" y1="554.90" x2="113.53" y2="554.90"/>
<line x1="683.71" y1="554.90" x2="677.21" y2="554.90"/>
<line x1="222.22" y1="551.60" x2="222.22" y2="540.10"/>
<line x1="438.47" y1="551.60" x2="438.47" y2="540.10"/>
<line x1="654.73" y1="551.60" x2="654.73" y2="540.10"/>
</g>
<rect x="107.03" y="551.60" width="576.68" height="288.80" fill="none" stroke="#000" stroke-width="3.4"/>
<circle cx="156.70" cy="768.80" r="6.95" fill="none" stroke="#0000ff" stroke-width="1.9"/>
<circle cx="170.70" cy="750.20" r="6.95" fill="none" stroke="#0000ff" stroke-width="1.9"/>
<circle cx="257.35" cy="716.30" r="6.95" fill="none" stroke="#0000ff" stroke-width="1.9"/>
<circle cx="271.30" cy="707.55" r="6.95" fill="none" stroke="#0000ff" stroke-width="1.9"/>
<circle cx="336.00" cy="681.70" r="6.95" fill="none" stroke="#0000ff" stroke-width="1.9"/>
<circle cx="333.70" cy="699.20" r="6.95" fill="none" stroke="#0000ff" stroke-width="1.9"/>
<circle cx="347.40" cy="698.40" r="6.95" fill="none" stroke="#0000ff" stroke-width="1.9"/>
<circle cx="349.40" cy="704.70" r="6.95" fill="none" stroke="#0000ff" stroke-width="1.9"/>
<circle cx="342.20" cy="714.10" r="6.95" fill="none" stroke="#0000ff" stroke-width="1.9"/>
<circle cx="370.70" cy="706.20" r="6.95" fill="none" stroke="#0000ff" stroke-width="1.9"/>
<circle cx="413.70" cy="659.40" r="6.95" fill="none" stroke="#0000ff" stroke-width="1.9"/>
<circle cx="414.30" cy="699.70" r="6.95" fill="none" stroke="#0000ff" stroke-width="1.9"/>
<circle cx="444.90" cy="666.80" r="6.95" fill="none" stroke="#0000ff" stroke-width="1.9"/>
<path d="M542.40,629.80L551.50,645.56L533.30,645.56Z" fill="none" stroke="#0000ff" stroke-width="2.4" stroke-linejoin="miter"/>
<circle cx="565.80" cy="619.30" r="11.2" fill="#ff0000"/>
<path d="M560.60,610.30L580.00,610.30L570.30,626.90Z" fill="#000"/>
<rect x="566.20" y="615.80" width="15.6" height="15.6" fill="none" stroke="#0000ff" stroke-width="2.3"/>
<line x1="565.80" y1="619.30" x2="604.00" y2="619.30" stroke="#ff0000" stroke-width="3.6"/>
<polygon points="607.20,612.40 609.76,620.28 618.04,620.28 611.34,625.15 613.90,633.02 607.20,628.15 600.50,633.02 603.06,625.15 596.36,620.28 604.64,620.28" fill="#ff0000"/>
<path d="M646.30,606.00L656.90,616.60L646.30,627.20L635.70,616.60Z" fill="none" stroke="#0000ff" stroke-width="2.6"/>
<path d="M646.30,600.00L656.90,610.60L646.30,621.20L635.70,610.60Z" fill="none" stroke="#f462b0" stroke-width="2.6"/>
<path d="M141.90,762.90L318.00,703.70L532.00,652.30L646.00,594.90" fill="none" stroke="#0000ff" stroke-width="2.7" stroke-linejoin="round" stroke-linecap="round"/>
<line x1="107.00" y1="573.90" x2="158.00" y2="573.90" stroke="#ff0000" stroke-width="3.6"/>
<circle cx="121.20" cy="574.00" r="11.0" fill="#ff0000"/>
<text x="163.82" y="582.50" font-size="25.5" text-anchor="start">2023 Mw7.6 Turkey</text>
<polygon points="121.40,591.40 123.96,599.28 132.24,599.28 125.54,604.15 128.10,612.02 121.40,607.15 114.70,612.02 117.26,604.15 110.56,599.28 118.84,599.28" fill="#ff0000"/>
<text x="135.72" y="611.20" font-size="25.5" text-anchor="start">2023 Mw7.8 Turkey</text>
<path d="M414.80,727.80L433.60,727.80L424.20,743.20Z" fill="#000"/>
<text x="437.93" y="740.70" font-size="25.5" text-anchor="start">2024 Noto Peninsula</text>
<path d="M424.30,750.10L435.20,761.00L424.30,771.90L413.40,761.00Z" fill="none" stroke="#0000ff" stroke-width="2.7"/>
<path d="M453.00,750.10L463.90,761.00L453.00,771.90L442.10,761.00Z" fill="none" stroke="#f462b0" stroke-width="2.7"/>
<text x="467.12" y="769.80" font-size="25.5" text-anchor="start">2008 Wenchuan</text>
<rect x="415.90" y="782.00" width="15.6" height="15.6" fill="none" stroke="#0000ff" stroke-width="2.3"/>
<text x="439.46" y="799.10" font-size="25.5" text-anchor="start">1999 Chi&#8722;Chi</text>
<path d="M424.30,807.70L433.80,824.15L414.80,824.15Z" fill="none" stroke="#0000ff" stroke-width="2.4" stroke-linejoin="miter"/>
<text x="439.46" y="827.30" font-size="25.5" text-anchor="start">1999 Kocaeli</text>
<text x="222.42" y="537.30" font-size="25.5" text-anchor="middle">6</text>
<text x="438.67" y="537.30" font-size="25.5" text-anchor="middle">7</text>
<text x="654.93" y="537.30" font-size="25.5" text-anchor="middle">8</text>
<text x="394.57" y="500.50" font-size="25.5" text-anchor="middle">Mw</text>
<text x="206.80" y="868.80" font-size="25.5" text-anchor="middle">10<tspan font-size="18.0" dx="-0.4" dy="-8.8">18</tspan></text>
<text x="350.97" y="868.80" font-size="25.5" text-anchor="middle">10<tspan font-size="18.0" dx="-0.4" dy="-8.8">19</tspan></text>
<text x="495.14" y="868.80" font-size="25.5" text-anchor="middle">10<tspan font-size="18.0" dx="-0.4" dy="-8.8">20</tspan></text>
<text x="641.11" y="868.80" font-size="25.5" text-anchor="middle">10<tspan font-size="18.0" dx="-0.4" dy="-8.8">21</tspan></text>
<text x="394.87" y="909.70" font-size="25.5" text-anchor="middle">M<tspan font-size="18.0" dx="1" dy="7.1">0</tspan><tspan dy="-7.1"> (Nm)</tspan></text>
<text x="97.80" y="851.80" font-size="25.5" text-anchor="end">10<tspan font-size="18.0" dx="-0.4" dy="-8.8">0</tspan></text>
<text x="101.40" y="779.60" font-size="25.5" text-anchor="end">10<tspan font-size="18.0" dx="-0.4" dy="-8.8">1</tspan></text>
<text x="97.80" y="707.40" font-size="25.5" text-anchor="end">10<tspan font-size="18.0" dx="-0.4" dy="-8.8">2</tspan></text>
<text x="97.80" y="635.20" font-size="25.5" text-anchor="end">10<tspan font-size="18.0" dx="-0.4" dy="-8.8">3</tspan></text>
<text x="97.80" y="563.00" font-size="25.5" text-anchor="end">10<tspan font-size="18.0" dx="-0.4" dy="-8.8">4</tspan></text>
</svg>
</body></html>
